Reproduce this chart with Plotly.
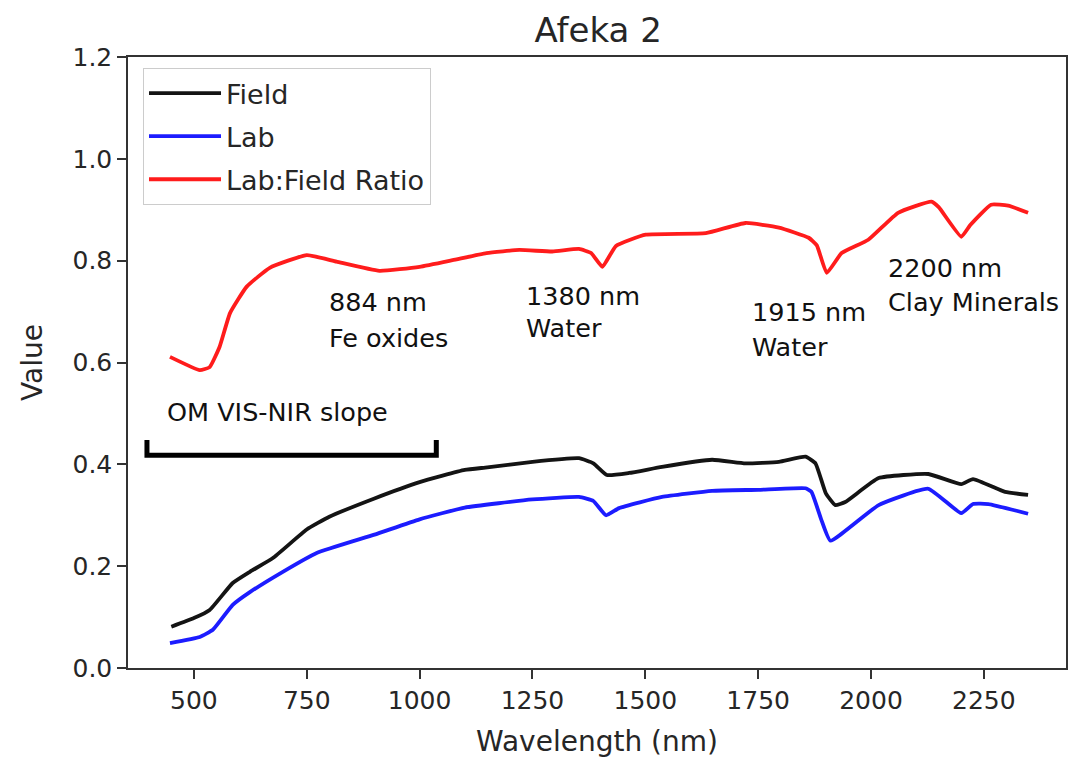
import plotly.graph_objects as go

# Field reflectance spectrum
field_wl = [450, 500, 535, 586, 624, 675, 750, 800, 900, 1000, 1100, 1150, 1250, 1353,
            1385, 1415, 1464, 1537, 1648, 1722, 1796, 1855, 1877, 1900, 1921, 1943, 2017,
            2127, 2200, 2226, 2297, 2348]
field_val = [0.081, 0.098, 0.114, 0.167, 0.189, 0.216, 0.272, 0.297, 0.333, 0.365, 0.389,
             0.394, 0.405, 0.412, 0.402, 0.379, 0.383, 0.395, 0.409, 0.402, 0.405, 0.415,
             0.402, 0.343, 0.320, 0.326, 0.373, 0.381, 0.361, 0.371, 0.346, 0.340]

# Lab reflectance spectrum
lab_wl = [447, 513, 542, 586, 624, 697, 772, 900, 1000, 1100, 1250, 1353, 1385, 1413, 1442,
          1537, 1648, 1750, 1855, 1868, 1890, 1910, 2017, 2127, 2200, 2226, 2260, 2348]
lab_val = [0.049, 0.061, 0.075, 0.124, 0.149, 0.189, 0.226, 0.262, 0.292, 0.315, 0.331,
           0.336, 0.328, 0.300, 0.314, 0.336, 0.348, 0.350, 0.353, 0.346, 0.291, 0.250,
           0.320, 0.352, 0.304, 0.322, 0.322, 0.303]

# Lab:Field ratio
ratio_wl = [447, 513, 535, 557, 580, 617, 668, 750, 816, 911, 1000, 1073, 1148, 1221, 1294,
            1353, 1380, 1405, 1435, 1501, 1634, 1722, 1796, 1862, 1880, 1902, 1935, 1994,
            2060, 2134, 2150, 2200, 2220, 2266, 2304, 2348]
ratio_val = [0.611, 0.585, 0.591, 0.631, 0.697, 0.749, 0.786, 0.811, 0.798, 0.780, 0.788,
             0.801, 0.815, 0.821, 0.818, 0.823, 0.815, 0.788, 0.829, 0.851, 0.854, 0.874,
             0.865, 0.845, 0.830, 0.776, 0.815, 0.841, 0.894, 0.916, 0.905, 0.847, 0.870,
             0.910, 0.908, 0.894]

x_ticks = [500, 750, 1000, 1250, 1500, 1750, 2000, 2250]
y_ticks = [0.0, 0.2, 0.4, 0.6, 0.8, 1.0, 1.2]

# Feature labels: (wavelength, value, text)
feature_labels = [
    (794, 0.719, "884 nm"), (794, 0.648, "Fe oxides"),
    (1232, 0.730, "1380 nm"), (1232, 0.667, "Water"),
    (1733, 0.699, "1915 nm"), (1733, 0.630, "Water"),
    (2034, 0.785, "2200 nm"), (2034, 0.718, "Clay Minerals"),
    (436, 0.503, "OM VIS-NIR slope"),
]

# Bracket spanning the OM slope region
bracket_x = [396, 1037]
bracket_y = [0.418, 0.448]

FONT = "DejaVu Sans"
TXT = "#262626"

fig = go.Figure()
line_kw = dict(shape="spline", smoothing=0.4, width=3.8)
series = [
    ("Field", field_wl, field_val, "#141414"),
    ("Lab", lab_wl, lab_val, "#1c1cff"),
    ("Lab:Field Ratio", ratio_wl, ratio_val, "#ff1c1c"),
]
for name, xs, ys, col in series:
    fig.add_trace(go.Scatter(x=xs, y=ys, mode="lines", name=name, legendgroup=name,
                             line=dict(color=col, **line_kw)))

for wl, v, txt in feature_labels:
    fig.add_annotation(x=wl, y=v, xref="x", yref="y", text=txt, showarrow=False,
                       xanchor="left", yanchor="middle",
                       font=dict(family=FONT, size=25.5, color="#111111"))

x0, x1 = bracket_x
ylo, yhi = bracket_y
fig.add_shape(type="path", xref="x", yref="y",
              path=f"M {x0},{yhi} L {x0},{ylo} L {x1},{ylo} L {x1},{yhi}",
              line=dict(color="black", width=5))

axis_common = dict(showline=True, linecolor="#333333", linewidth=1.5, mirror=True,
                   ticks="outside", ticklen=9, tickwidth=1.5, tickcolor="#333333",
                   showgrid=False, zeroline=False,
                   tickfont=dict(family=FONT, size=25, color=TXT))

fig.update_layout(
    width=1071, height=761,
    margin=dict(l=128, r=3, t=57, b=93),
    paper_bgcolor="white", plot_bgcolor="white",
    title=dict(text="Afeka 2", x=0.5585, xanchor="center", y=0.9606, yanchor="middle",
               font=dict(family=FONT, size=34, color=TXT)),
    xaxis=dict(range=[354, 2432], tickvals=x_ticks,
               title=dict(text="Wavelength (nm)", standoff=18,
                          font=dict(family=FONT, size=28, color=TXT)),
               **axis_common),
    yaxis=dict(range=[0, 1.2], tickvals=y_ticks, tickformat=".1f",
               title=dict(text="Value", standoff=22,
                          font=dict(family=FONT, size=28, color=TXT)),
               **axis_common),
    legend=dict(x=0.016, y=0.982, xanchor="left", yanchor="top",
                bgcolor="rgba(255,255,255,0.9)", bordercolor="#cccccc", borderwidth=1,
                font=dict(family=FONT, size=27, color=TXT),
                itemwidth=72, tracegroupgap=5),
    showlegend=True,
)

fig.write_html("out.html")
